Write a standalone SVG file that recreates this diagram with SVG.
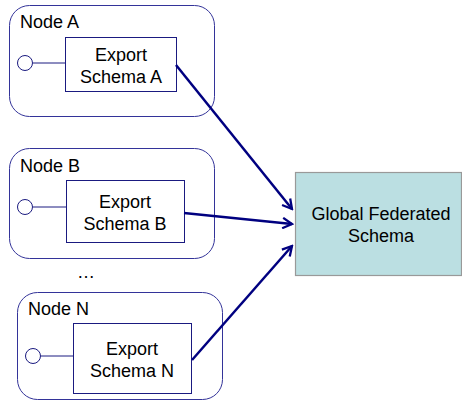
<svg xmlns="http://www.w3.org/2000/svg" width="462" height="403" viewBox="0 0 462 403">
  <style>
    .node { fill: #ffffff; stroke: #333399; stroke-width: 1; }
    .schema { fill: #ffffff; stroke: #1a1a80; stroke-width: 1; }
    .port { fill: #ffffff; stroke: #1a1a80; stroke-width: 1; }
    .wire { stroke: #1a1a80; stroke-width: 1; fill: none; }
    .global { fill: #bbdfe2; stroke: #999999; stroke-width: 1.2; }
    .label { font-family: "Liberation Sans", Arial, sans-serif; font-size: 18px; fill: #000000; }
    .mid { text-anchor: middle; }
    .edge { stroke: #000080; stroke-width: 2.5; fill: none; marker-end: url(#open); }
  </style>
  <defs>
    <marker id="open" viewBox="0 0 12 12" refX="10" refY="6" markerWidth="5" markerHeight="5" orient="auto" markerUnits="strokeWidth">
      <path d="M1,1 L10,6 L1,11" fill="none" stroke="#000080" stroke-width="2.2"/>
    </marker>
  </defs>
  <rect width="462" height="403" fill="#ffffff"/>

  <g id="node-a">
    <rect class="node" x="9.5" y="5.5" width="205" height="111" rx="20"/>
    <text class="label" x="20" y="28">Node A</text>
    <line class="wire" x1="33" y1="63" x2="65" y2="63"/>
    <circle class="port" cx="25" cy="63" r="7.5"/>
    <rect class="schema" x="65.5" y="37.5" width="111" height="54"/>
    <text class="label mid" x="121" y="61">Export</text>
    <text class="label mid" x="121" y="83">Schema A</text>
  </g>

  <g id="node-b">
    <rect class="node" x="9.5" y="148.5" width="205" height="110" rx="20"/>
    <text class="label" x="20" y="172">Node B</text>
    <line class="wire" x1="33" y1="207" x2="66" y2="207"/>
    <circle class="port" cx="25" cy="207" r="7.5"/>
    <rect class="schema" x="66.5" y="180.5" width="118" height="62"/>
    <text class="label mid" x="125" y="208">Export</text>
    <text class="label mid" x="125" y="230">Schema B</text>
  </g>

  <text class="label" x="77" y="278">…</text>

  <g id="node-n">
    <rect class="node" x="17.5" y="292.5" width="205" height="107" rx="20"/>
    <text class="label" x="28" y="315">Node N</text>
    <line class="wire" x1="41" y1="356" x2="73" y2="356"/>
    <circle class="port" cx="33" cy="356" r="7.5"/>
    <rect class="schema" x="73.5" y="323.5" width="118" height="70"/>
    <text class="label mid" x="132" y="355">Export</text>
    <text class="label mid" x="132" y="377">Schema N</text>
  </g>

  <g id="global">
    <rect class="global" x="295.5" y="172.5" width="166" height="103"/>
    <text class="label mid" x="381" y="220">Global Federated</text>
    <text class="label mid" x="381" y="242">Schema</text>
  </g>

  <g id="connectors">
    <line class="edge" x1="176" y1="65" x2="292" y2="209"/>
    <line class="edge" x1="184" y1="213" x2="292" y2="224"/>
    <line class="edge" x1="192" y1="360" x2="292" y2="246"/>
  </g>
</svg>
